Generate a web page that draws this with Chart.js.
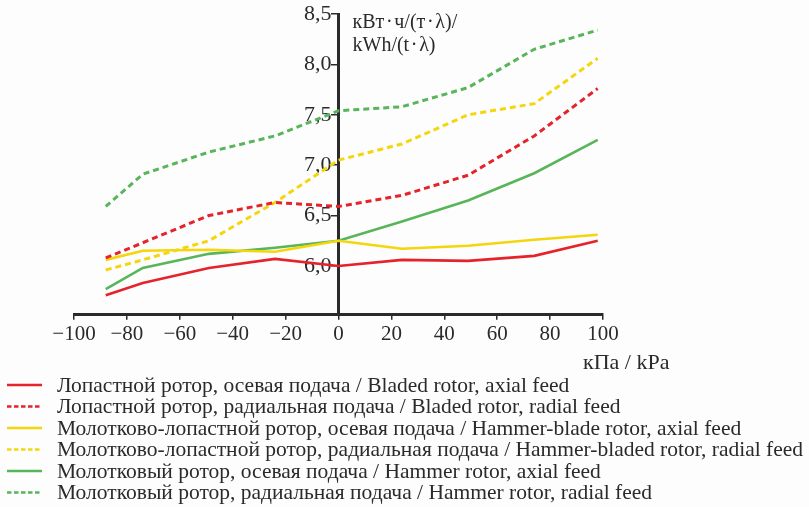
<!DOCTYPE html>
<html>
<head>
<meta charset="utf-8">
<script src="https://cdn.jsdelivr.net/npm/chart.js@4.4.1/dist/chart.umd.min.js"></script>
<style>
  html, body { margin: 0; padding: 0; background: #fdfdfd; }
  #wrap { width: 809px; height: 507px; position: relative; }
</style>
</head>
<body>
<div id="wrap"><canvas id="chart"></canvas></div>
<script>
// pressure, kPa (x positions of the measured points)
const pressure = [-88, -74, -49, -24, 0, 24, 49, 74, 98];

// specific energy, kWh/(t·λ)
const bladedAxial = [5.71, 5.83, 5.98, 6.07, 6.00, 6.06, 6.05, 6.10, 6.25];
const bladedRadial = [6.08, 6.23, 6.50, 6.63, 6.59, 6.70, 6.90, 7.29, 7.76];
const hammerBladeAxial = [6.06, 6.15, 6.16, 6.14, 6.25, 6.17, 6.20, 6.26, 6.31];
const hammerBladeRadial = [5.96, 6.06, 6.25, 6.63, 7.05, 7.21, 7.50, 7.61, 8.06];
const hammerAxial = [5.77, 5.98, 6.12, 6.18, 6.25, 6.44, 6.65, 6.92, 7.25];
const hammerRadial = [6.59, 6.91, 7.13, 7.29, 7.54, 7.58, 7.77, 8.15, 8.34];

const seriesNames = [
  'Лопастной ротор, осевая подача / Bladed rotor, axial feed',
  'Лопастной ротор, радиальная подача / Bladed rotor, radial feed',
  'Молотково-лопастной ротор, осевая подача / Hammer-blade rotor, axial feed',
  'Молотково-лопастной ротор, радиальная подача / Hammer-bladed rotor, radial feed',
  'Молотковый ротор, осевая подача / Hammer rotor, axial feed',
  'Молотковый ротор, радиальная подача / Hammer rotor, radial feed'
];

// tick labels
const xTicks = [-100, -80, -60, -40, -20, 0, 20, 40, 60, 80, 100];
const yTicks = [6.0, 6.5, 7.0, 7.5, 8.0, 8.5];

const RED = '#e5232a', YELLOW = '#f4d60c', GREEN = '#58b55a';
const INK = '#2a2a2a';
const SERIF = '"Liberation Serif", "DejaVu Serif", serif';

function makeSet(i, values, color, dashed) {
  return {
    label: seriesNames[i],
    data: pressure.map((x, k) => ({ x: x, y: values[k] })),
    borderColor: color,
    backgroundColor: color,
    borderWidth: dashed ? 3 : 2.6,
    borderDash: dashed ? [6, 4] : [],
    pointRadius: 0,
    tension: 0,
    fill: false
  };
}

// y tick labels sit left of the centred axis (drawn under the lines)
const yLabels = {
  id: 'yLabels',
  beforeDatasetsDraw(chart) {
    const ctx = chart.ctx;
    const ys = chart.scales.y;
    const x0 = chart.scales.x.getPixelForValue(0);
    ctx.save();
    ctx.fillStyle = INK;
    ctx.font = '22px ' + SERIF;
    ctx.textAlign = 'right';
    ctx.textBaseline = 'middle';
    yTicks.forEach(v => {
      ctx.fillText(v.toFixed(1).replace('.', ','), x0 - 7, ys.getPixelForValue(v));
    });
    ctx.restore();
  }
};

// axis unit captions + legend drawn on the canvas
const captions = {
  id: 'captions',
  afterDraw(chart) {
    const ctx = chart.ctx;
    const x0 = chart.scales.x.getPixelForValue(0);
    ctx.save();
    ctx.fillStyle = INK;
    ctx.font = '20px ' + SERIF;
    ctx.textAlign = 'left';
    ctx.textBaseline = 'alphabetic';
    ctx.fillText('кВт\u200A·\u200Aч/(т\u200A·\u200Aλ)/', x0 + 14, 28);
    ctx.fillText('kWh/(t\u200A·\u200Aλ)', x0 + 14, 51);
    ctx.font = '22px ' + SERIF;
    ctx.fillText('кПа / kPa', 583, 369);

    // legend
    ctx.font = '21.5px ' + SERIF;
    chart.data.datasets.forEach((ds, i) => {
      const y = 385 + i * 21.5;
      ctx.strokeStyle = ds.borderColor;
      ctx.lineWidth = 2.6;
      ctx.setLineDash(ds.borderDash.length ? [4.5, 2.5] : []);
      ctx.beginPath();
      ctx.moveTo(7, y);
      ctx.lineTo(42, y);
      ctx.stroke();
      ctx.setLineDash([]);
      ctx.fillStyle = INK;
      ctx.textBaseline = 'middle';
      ctx.fillText(ds.label, 57, y + 1);
    });
    ctx.restore();
  }
};

const fmt = v => (v < 0 ? '\u2212' + Math.abs(v) : String(v));

new Chart(document.getElementById('chart'), {
  type: 'line',
  data: {
    datasets: [
      makeSet(0, bladedAxial, RED, false),
      makeSet(1, bladedRadial, RED, true),
      makeSet(2, hammerBladeAxial, YELLOW, false),
      makeSet(3, hammerBladeRadial, YELLOW, true),
      makeSet(4, hammerAxial, GREEN, false),
      makeSet(5, hammerRadial, GREEN, true)
    ]
  },
  options: {
    responsive: true,
    maintainAspectRatio: false,
    animation: false,
    layout: { padding: { left: 74, right: 206, top: 14, bottom: 158 } },
    plugins: {
      legend: { display: false },
      tooltip: { enabled: false }
    },
    scales: {
      x: {
        type: 'linear',
        min: -100,
        max: 100,
        afterBuildTicks: s => { s.ticks = xTicks.map(v => ({ value: v })); },
        border: { display: true, color: INK, width: 3 },
        grid: { drawOnChartArea: false, drawTicks: true, tickLength: 5, color: INK, lineWidth: 1.5 },
        ticks: { color: INK, padding: 2, maxRotation: 0, font: { family: SERIF, size: 21 }, callback: v => fmt(v) }
      },
      y: {
        type: 'linear',
        position: { x: 0 },
        min: 5.515,
        max: 8.5,
        afterBuildTicks: s => { s.ticks = yTicks.map(v => ({ value: v })); },
        border: { display: true, color: INK, width: 3 },
        grid: { drawOnChartArea: false, drawTicks: true, tickLength: 6, color: INK, lineWidth: 1.5 },
        ticks: { display: false }
      }
    }
  },
  plugins: [yLabels, captions]
});
</script>
</body>
</html>
